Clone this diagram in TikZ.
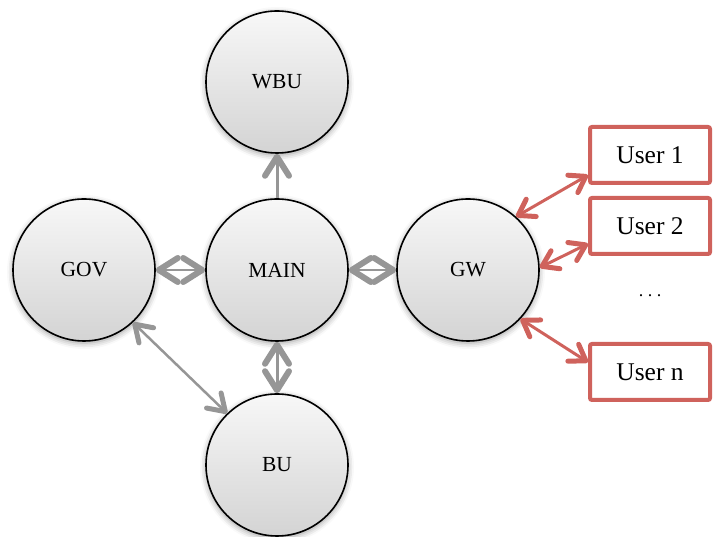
\documentclass[tikz,border=0pt]{standalone}
\usepackage{fontspec}
\setmainfont{Liberation Serif}
\usetikzlibrary{arrows.meta,shadows.blur}
\definecolor{userred}{RGB}{207,98,92}
\definecolor{linkgray}{RGB}{150,150,150}
\tikzset{
  hub/.style={circle,draw=black,line width=1.6pt,minimum size=142pt,inner sep=0pt,
    top color=black!3,bottom color=black!17,font=\fontsize{21.5}{24}\selectfont,
    blur shadow={shadow xshift=0pt,shadow yshift=-2pt,shadow blur radius=6pt,shadow opacity=40}},
  userbox/.style={rectangle,draw=userred,line width=4pt,rounded corners=2pt,fill=white,
    minimum width=120pt,minimum height=56pt,font=\fontsize{25.5}{28}\selectfont},
  graytip/.tip={Straight Barb[length=19pt,width=24pt,line width=6pt,round]},
  smalltip/.tip={Straight Barb[length=16pt,width=21pt,line width=5pt,round]},
  redtip/.tip={Straight Barb[length=15pt,width=20pt,line width=5pt,round]},
  graylink/.style={draw=linkgray,line width=3pt},
  redlink/.style={draw=userred,line width=3pt,redtip-redtip}
}
\begin{document}
\begin{tikzpicture}[x=1pt,y=1pt]
\useasboundingbox (0,0) rectangle (716,537);

% Circles
\node[hub] (wbu) at (277,455) {WBU};
\node[hub] (main) at (277,267) {MAIN};
\node[hub] (gov) at (84,267) {GOV};
\node[hub] (gw) at (468,267) {GW};
\node[hub] (bu) at (277,72) {BU};

% Users
\node[userbox] (u1) at (650,382) {User 1};
\node[userbox] (u2) at (650,311) {User 2};
\node[userbox] (un) at (650,165) {User n};
\node[font=\fontsize{18}{20}\selectfont] (dots) at (650,241) {.\ .\ .};

% Gray links
\draw[graylink,-graytip] (main) -- (wbu);
\draw[graylink,line width=2.5pt,graytip-graytip] (main) -- (gov);
\draw[graylink,line width=2.5pt,graytip-graytip] (main) -- (gw);
\draw[graylink,graytip-graytip] (main) -- (bu);
\draw[graylink,line width=2.5pt,smalltip-smalltip] (gov.-47) -- (bu.134);

% Red links to users
\draw[redlink] (gw.48) -- (u1.198);
\draw[redlink] (gw.2) -- (u2.196);
\draw[redlink] (gw.-43) -- (un.171);

\end{tikzpicture}
\end{document}
